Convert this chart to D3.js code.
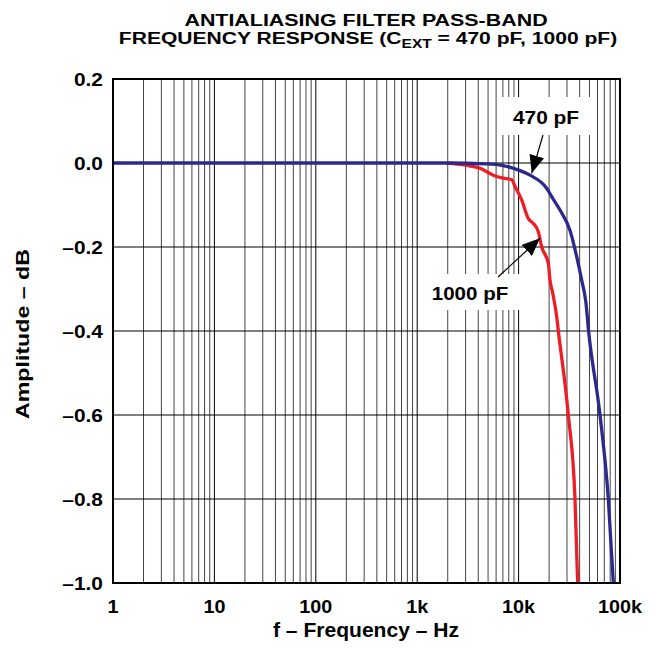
<!DOCTYPE html>
<html><head><meta charset="utf-8">
<script src="https://cdn.jsdelivr.net/npm/d3@7"></script>
<style>body{margin:0;background:#fff}svg{font-family:"Liberation Sans",Arial,sans-serif;font-weight:bold}</style>
</head><body>
<svg id="c" width="663" height="648"></svg>
<script>
const freq470 = [1, 1950, 4840, 7000, 8870, 12950, 18900, 21200, 25600, 32100, 37400, 41900, 46000, 49000, 63500, 76700, 85900];
const amp470  = [0, 0, -0.002, -0.006, -0.0126, -0.029, -0.06, -0.08, -0.112, -0.16, -0.223, -0.279, -0.33, -0.40, -0.60, -0.80, -1.0];
const freq1000 = [1950, 3000, 4160, 5630, 7000, 8550, 9220, 10720, 12470, 13970, 15660, 16900, 19640, 20400, 21700, 23760, 24660, 30920, 35980, 38260];
const amp1000  = [0, -0.005, -0.0126, -0.029, -0.036, -0.040, -0.056, -0.088, -0.132, -0.144, -0.164, -0.2, -0.239, -0.279, -0.31, -0.366, -0.40, -0.60, -0.80, -1.0];
const xTickVals = [1, 10, 100, 1000, 10000, 100000];
const xTickLabels = ["1", "10", "100", "1k", "10k", "100k"];
const yTickVals = [0.2, 0.0, -0.2, -0.4, -0.6, -0.8, -1.0];
const yTickLabels = ["0.2", "0.0", "\u20130.2", "\u20130.4", "\u20130.6", "\u20130.8", "\u20131.0"];

const L = 113, R = 620, T = 79, B = 583;
const svg = d3.select("#c");
const x = d3.scaleLog().domain([1, 100000]).range([L, R]);
const y = d3.scaleLinear().domain([-1, 0.2]).range([B, T]);

function txt(px, py, s, size, sx, anchor, extra) {
  return svg.append("text")
    .attr("transform", `translate(${px},${py}) ${extra || ""} scale(${sx},1)`)
    .attr("text-anchor", anchor).attr("font-size", size).text(s);
}

// minor vertical grid
const minor = [];
for (let d = 1; d < 100000; d *= 10) for (let k = 2; k <= 9; k++) minor.push(d * k);
svg.append("g").selectAll("line").data(minor).join("line")
  .attr("x1", d => x(d)).attr("x2", d => x(d)).attr("y1", T).attr("y2", B)
  .attr("stroke", "#444").attr("stroke-width", 1);
svg.append("g").selectAll("line").data(xTickVals).join("line")
  .attr("x1", d => x(d)).attr("x2", d => x(d)).attr("y1", T).attr("y2", B)
  .attr("stroke", "#000").attr("stroke-width", 1);
svg.append("g").selectAll("line").data(yTickVals).join("line")
  .attr("x1", L).attr("x2", R).attr("y1", d => y(d)).attr("y2", d => y(d))
  .attr("stroke", "#000").attr("stroke-width", 1);

// label boxes (white) hiding grid
svg.append("rect").attr("x", 500).attr("y", 97).attr("width", 92).attr("height", 38).attr("fill", "#fff");
svg.append("rect").attr("x", 418).attr("y", 274).attr("width", 104).attr("height", 36).attr("fill", "#fff");

const line = d3.line().x(d => x(d[0])).y(d => y(d[1])).curve(d3.curveMonotoneX);
svg.append("path").datum(d3.zip(freq1000, amp1000)).attr("d", line)
  .attr("fill", "none").attr("stroke", "#ee1c25").attr("stroke-width", 3.3).attr("stroke-linejoin", "round");
svg.append("path").datum(d3.zip(freq470, amp470)).attr("d", line)
  .attr("fill", "none").attr("stroke", "#2b2a8c").attr("stroke-width", 3.3).attr("stroke-linejoin", "round");

txt(546, 124, "470 pF", 19, 1.1, "middle");
txt(470, 300, "1000 pF", 19, 1.08, "middle");

// arrows
svg.append("defs").append("marker").attr("id", "ah").attr("viewBox", "0 0 18 15")
  .attr("refX", 18).attr("refY", 7.5).attr("markerWidth", 18).attr("markerHeight", 15)
  .attr("markerUnits", "userSpaceOnUse").attr("orient", "auto")
  .append("path").attr("d", "M0,0 L18,7.5 L0,15 Z").attr("fill", "#000");
svg.append("line").attr("x1", 543).attr("y1", 135).attr("x2", 531.7).attr("y2", 173.3)
  .attr("stroke", "#000").attr("stroke-width", 1.2).attr("marker-end", "url(#ah)");
svg.append("line").attr("x1", 498).attr("y1", 277).attr("x2", 540).attr("y2", 238.3)
  .attr("stroke", "#000").attr("stroke-width", 1.2).attr("marker-end", "url(#ah)");

// frame
svg.append("rect").attr("x", L).attr("y", T).attr("width", R - L).attr("height", B - T)
  .attr("fill", "none").attr("stroke", "#000").attr("stroke-width", 2);

// tick labels
xTickVals.forEach((d, i) => txt(x(d), 612.5, xTickLabels[i], 18.5, 1.07, "middle"));
yTickVals.forEach((d, i) => txt(103, y(d) + 6.5, yTickLabels[i], 18.5, 1.13, "end"));

txt(366, 637, "f \u2013 Frequency \u2013 Hz", 19.5, 1.08, "middle");
txt(29, 334, "Amplitude \u2013 dB", 19, 1.22, "middle", "rotate(-90)");

// title
txt(366, 25.5, "ANTIALIASING FILTER PASS-BAND", 17, 1.26, "middle");
const t2 = svg.append("text").attr("transform", "translate(368,44) scale(1.24,1)")
  .attr("text-anchor", "middle").attr("font-size", 17);
t2.append("tspan").text("FREQUENCY RESPONSE (C");
t2.append("tspan").attr("font-size", 12.5).attr("dy", 3.5).text("EXT");
t2.append("tspan").attr("dy", -3.5).text(" = 470 pF, 1000 pF)");
</script>
</body></html>
